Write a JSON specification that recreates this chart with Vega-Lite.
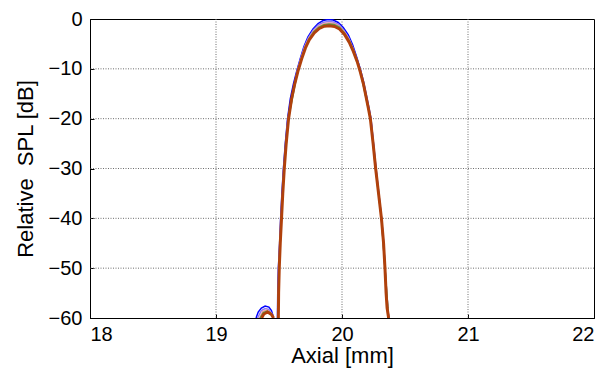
{
  "$schema": "https://vega.github.io/schema/vega-lite/v6.json",
  "width": 504,
  "height": 299,
  "autosize": {"type": "none"},
  "padding": {"left": 90, "top": 19, "right": 20, "bottom": 54},
  "background": "white",
  "config": {"view": {"stroke": "black", "strokeWidth": 1}, "font": "Liberation Sans"},
  "datasets": {
    "gx": [{"v": 19}, {"v": 20}, {"v": 21}],
    "gy": [{"v": -10}, {"v": -20}, {"v": -30}, {"v": -40}, {"v": -50}],
    "curves": [
      {"s": "a", "g": "s", "x": 19.318, "y": -60}, {"s": "a", "g": "s", "x": 19.335, "y": -58.8}, {"s": "a", "g": "s", "x": 19.36, "y": -58}, {"s": "a", "g": "s", "x": 19.39, "y": -57.6}, {"s": "a", "g": "s", "x": 19.42, "y": -57.8}, {"s": "a", "g": "s", "x": 19.44, "y": -58.5}, {"s": "a", "g": "s", "x": 19.452, "y": -59.5}, {"s": "a", "g": "s", "x": 19.456, "y": -60},
      {"s": "a", "g": "m", "x": 19.488, "y": -60}, {"s": "a", "g": "m", "x": 19.49, "y": -55}, {"s": "a", "g": "m", "x": 19.495, "y": -50}, {"s": "a", "g": "m", "x": 19.505, "y": -45}, {"s": "a", "g": "m", "x": 19.513, "y": -40}, {"s": "a", "g": "m", "x": 19.523, "y": -35}, {"s": "a", "g": "m", "x": 19.535, "y": -30}, {"s": "a", "g": "m", "x": 19.55, "y": -25}, {"s": "a", "g": "m", "x": 19.568, "y": -20}, {"s": "a", "g": "m", "x": 19.59, "y": -16}, {"s": "a", "g": "m", "x": 19.615, "y": -13}, {"s": "a", "g": "m", "x": 19.64, "y": -10.5}, {"s": "a", "g": "m", "x": 19.668, "y": -8}, {"s": "a", "g": "m", "x": 19.698, "y": -5.5}, {"s": "a", "g": "m", "x": 19.73, "y": -3.6}, {"s": "a", "g": "m", "x": 19.77, "y": -2}, {"s": "a", "g": "m", "x": 19.81, "y": -0.9}, {"s": "a", "g": "m", "x": 19.85, "y": -0.3}, {"s": "a", "g": "m", "x": 19.89, "y": -0.1}, {"s": "a", "g": "m", "x": 19.93, "y": -0.2}, {"s": "a", "g": "m", "x": 19.97, "y": -0.7}, {"s": "a", "g": "m", "x": 20.01, "y": -1.7}, {"s": "a", "g": "m", "x": 20.05, "y": -3.2}, {"s": "a", "g": "m", "x": 20.085, "y": -5.2}, {"s": "a", "g": "m", "x": 20.115, "y": -7.5}, {"s": "a", "g": "m", "x": 20.145, "y": -10}, {"s": "a", "g": "m", "x": 20.17, "y": -12.5}, {"s": "a", "g": "m", "x": 20.195, "y": -15.5}, {"s": "a", "g": "m", "x": 20.215, "y": -18}, {"s": "a", "g": "m", "x": 20.23, "y": -20}, {"s": "a", "g": "m", "x": 20.25, "y": -25}, {"s": "a", "g": "m", "x": 20.27, "y": -30}, {"s": "a", "g": "m", "x": 20.292, "y": -35}, {"s": "a", "g": "m", "x": 20.314, "y": -40}, {"s": "a", "g": "m", "x": 20.331, "y": -45}, {"s": "a", "g": "m", "x": 20.342, "y": -50}, {"s": "a", "g": "m", "x": 20.351, "y": -55}, {"s": "a", "g": "m", "x": 20.371, "y": -60},
      {"s": "b", "g": "s", "x": 19.33, "y": -60}, {"s": "b", "g": "s", "x": 19.36, "y": -58.5}, {"s": "b", "g": "s", "x": 19.39, "y": -58.1}, {"s": "b", "g": "s", "x": 19.42, "y": -58.3}, {"s": "b", "g": "s", "x": 19.445, "y": -59.2}, {"s": "b", "g": "s", "x": 19.456, "y": -60},
      {"s": "b", "g": "m", "x": 19.49, "y": -60}, {"s": "b", "g": "m", "x": 19.497, "y": -50}, {"s": "b", "g": "m", "x": 19.516, "y": -40}, {"s": "b", "g": "m", "x": 19.538, "y": -30}, {"s": "b", "g": "m", "x": 19.571, "y": -20}, {"s": "b", "g": "m", "x": 19.643, "y": -10.5}, {"s": "b", "g": "m", "x": 19.671, "y": -8}, {"s": "b", "g": "m", "x": 19.701, "y": -5.6}, {"s": "b", "g": "m", "x": 19.733, "y": -3.8}, {"s": "b", "g": "m", "x": 19.773, "y": -2.2}, {"s": "b", "g": "m", "x": 19.813, "y": -1.2}, {"s": "b", "g": "m", "x": 19.853, "y": -0.65}, {"s": "b", "g": "m", "x": 19.893, "y": -0.5}, {"s": "b", "g": "m", "x": 19.933, "y": -0.6}, {"s": "b", "g": "m", "x": 19.973, "y": -1.1}, {"s": "b", "g": "m", "x": 20.013, "y": -2.2}, {"s": "b", "g": "m", "x": 20.053, "y": -3.8}, {"s": "b", "g": "m", "x": 20.087, "y": -5.8}, {"s": "b", "g": "m", "x": 20.117, "y": -8}, {"s": "b", "g": "m", "x": 20.145, "y": -10.3}, {"s": "b", "g": "m", "x": 20.228, "y": -20}, {"s": "b", "g": "m", "x": 20.268, "y": -30}, {"s": "b", "g": "m", "x": 20.313, "y": -40}, {"s": "b", "g": "m", "x": 20.341, "y": -50}, {"s": "b", "g": "m", "x": 20.37, "y": -60},
      {"s": "c", "g": "s", "x": 19.345, "y": -60}, {"s": "c", "g": "s", "x": 19.37, "y": -58.7}, {"s": "c", "g": "s", "x": 19.4, "y": -58.4}, {"s": "c", "g": "s", "x": 19.43, "y": -58.8}, {"s": "c", "g": "s", "x": 19.452, "y": -59.6}, {"s": "c", "g": "s", "x": 19.457, "y": -60},
      {"s": "c", "g": "m", "x": 19.492, "y": -60}, {"s": "c", "g": "m", "x": 19.5, "y": -50}, {"s": "c", "g": "m", "x": 19.518, "y": -40}, {"s": "c", "g": "m", "x": 19.54, "y": -30}, {"s": "c", "g": "m", "x": 19.573, "y": -20}, {"s": "c", "g": "m", "x": 19.646, "y": -10.5}, {"s": "c", "g": "m", "x": 19.674, "y": -8}, {"s": "c", "g": "m", "x": 19.704, "y": -5.7}, {"s": "c", "g": "m", "x": 19.736, "y": -3.9}, {"s": "c", "g": "m", "x": 19.775, "y": -2.4}, {"s": "c", "g": "m", "x": 19.815, "y": -1.5}, {"s": "c", "g": "m", "x": 19.855, "y": -0.95}, {"s": "c", "g": "m", "x": 19.895, "y": -0.8}, {"s": "c", "g": "m", "x": 19.935, "y": -0.9}, {"s": "c", "g": "m", "x": 19.975, "y": -1.4}, {"s": "c", "g": "m", "x": 20.015, "y": -2.5}, {"s": "c", "g": "m", "x": 20.055, "y": -4.1}, {"s": "c", "g": "m", "x": 20.088, "y": -6}, {"s": "c", "g": "m", "x": 20.118, "y": -8.2}, {"s": "c", "g": "m", "x": 20.145, "y": -10.4}, {"s": "c", "g": "m", "x": 20.227, "y": -20}, {"s": "c", "g": "m", "x": 20.267, "y": -30}, {"s": "c", "g": "m", "x": 20.313, "y": -40}, {"s": "c", "g": "m", "x": 20.341, "y": -50}, {"s": "c", "g": "m", "x": 20.37, "y": -60},
      {"s": "d", "g": "s", "x": 19.35, "y": -60}, {"s": "d", "g": "s", "x": 19.375, "y": -58.9}, {"s": "d", "g": "s", "x": 19.405, "y": -58.6}, {"s": "d", "g": "s", "x": 19.435, "y": -59}, {"s": "d", "g": "s", "x": 19.455, "y": -60},
      {"s": "d", "g": "m", "x": 19.493, "y": -60}, {"s": "d", "g": "m", "x": 19.501, "y": -50}, {"s": "d", "g": "m", "x": 19.519, "y": -40}, {"s": "d", "g": "m", "x": 19.541, "y": -30}, {"s": "d", "g": "m", "x": 19.575, "y": -20}, {"s": "d", "g": "m", "x": 19.648, "y": -10.5}, {"s": "d", "g": "m", "x": 19.677, "y": -8}, {"s": "d", "g": "m", "x": 19.707, "y": -5.8}, {"s": "d", "g": "m", "x": 19.738, "y": -4}, {"s": "d", "g": "m", "x": 19.777, "y": -2.5}, {"s": "d", "g": "m", "x": 19.817, "y": -1.65}, {"s": "d", "g": "m", "x": 19.857, "y": -1.15}, {"s": "d", "g": "m", "x": 19.897, "y": -1}, {"s": "d", "g": "m", "x": 19.937, "y": -1.1}, {"s": "d", "g": "m", "x": 19.977, "y": -1.6}, {"s": "d", "g": "m", "x": 20.017, "y": -2.7}, {"s": "d", "g": "m", "x": 20.056, "y": -4.3}, {"s": "d", "g": "m", "x": 20.089, "y": -6.2}, {"s": "d", "g": "m", "x": 20.119, "y": -8.3}, {"s": "d", "g": "m", "x": 20.145, "y": -10.5}, {"s": "d", "g": "m", "x": 20.226, "y": -20}, {"s": "d", "g": "m", "x": 20.266, "y": -30}, {"s": "d", "g": "m", "x": 20.313, "y": -40}, {"s": "d", "g": "m", "x": 20.341, "y": -50}, {"s": "d", "g": "m", "x": 20.37, "y": -60},
      {"s": "e", "g": "s", "x": 19.362, "y": -60}, {"s": "e", "g": "s", "x": 19.38, "y": -59.2}, {"s": "e", "g": "s", "x": 19.41, "y": -58.8}, {"s": "e", "g": "s", "x": 19.44, "y": -59.3}, {"s": "e", "g": "s", "x": 19.457, "y": -60},
      {"s": "e", "g": "m", "x": 19.495, "y": -60}, {"s": "e", "g": "m", "x": 19.497, "y": -55}, {"s": "e", "g": "m", "x": 19.502, "y": -50}, {"s": "e", "g": "m", "x": 19.51, "y": -45}, {"s": "e", "g": "m", "x": 19.52, "y": -40}, {"s": "e", "g": "m", "x": 19.53, "y": -35}, {"s": "e", "g": "m", "x": 19.542, "y": -30}, {"s": "e", "g": "m", "x": 19.557, "y": -25}, {"s": "e", "g": "m", "x": 19.576, "y": -20}, {"s": "e", "g": "m", "x": 19.6, "y": -16}, {"s": "e", "g": "m", "x": 19.625, "y": -13}, {"s": "e", "g": "m", "x": 19.65, "y": -10.5}, {"s": "e", "g": "m", "x": 19.68, "y": -8}, {"s": "e", "g": "m", "x": 19.71, "y": -5.8}, {"s": "e", "g": "m", "x": 19.74, "y": -4.2}, {"s": "e", "g": "m", "x": 19.78, "y": -2.8}, {"s": "e", "g": "m", "x": 19.82, "y": -1.9}, {"s": "e", "g": "m", "x": 19.86, "y": -1.45}, {"s": "e", "g": "m", "x": 19.9, "y": -1.35}, {"s": "e", "g": "m", "x": 19.94, "y": -1.5}, {"s": "e", "g": "m", "x": 19.98, "y": -2}, {"s": "e", "g": "m", "x": 20.02, "y": -3.1}, {"s": "e", "g": "m", "x": 20.058, "y": -4.7}, {"s": "e", "g": "m", "x": 20.09, "y": -6.5}, {"s": "e", "g": "m", "x": 20.12, "y": -8.5}, {"s": "e", "g": "m", "x": 20.145, "y": -10.6}, {"s": "e", "g": "m", "x": 20.17, "y": -13}, {"s": "e", "g": "m", "x": 20.19, "y": -15.5}, {"s": "e", "g": "m", "x": 20.21, "y": -18}, {"s": "e", "g": "m", "x": 20.225, "y": -20}, {"s": "e", "g": "m", "x": 20.247, "y": -25}, {"s": "e", "g": "m", "x": 20.267, "y": -30}, {"s": "e", "g": "m", "x": 20.29, "y": -35}, {"s": "e", "g": "m", "x": 20.313, "y": -40}, {"s": "e", "g": "m", "x": 20.33, "y": -45}, {"s": "e", "g": "m", "x": 20.341, "y": -50}, {"s": "e", "g": "m", "x": 20.35, "y": -55}, {"s": "e", "g": "m", "x": 20.358, "y": -58}, {"s": "e", "g": "m", "x": 20.37, "y": -60}
    ]
  },
  "layer": [
    {
      "data": {"name": "gx"},
      "mark": {"type": "rule", "color": "#6e6e6e", "strokeDash": [1, 1.5], "strokeWidth": 1},
      "encoding": {
        "x": {"field": "v", "type": "quantitative", "scale": {"domain": [18, 22], "nice": false, "zero": false},
          "axis": {"title": "Axial [mm]", "values": [18, 19, 20, 21, 22], "format": "d", "grid": false, "domainColor": "black", "tickColor": "black", "tickSize": -4, "labelFont": "Liberation Sans", "labelFontSize": 20, "labelColor": "black", "labelPadding": 10, "titleFont": "Liberation Sans", "titleFontSize": 22, "titleFontWeight": "normal", "titleColor": "black", "titleY": 44, "titleBaseline": "alphabetic"}}
      }
    },
    {
      "data": {"name": "gy"},
      "mark": {"type": "rule", "color": "#6e6e6e", "strokeDash": [1, 1.5], "strokeWidth": 1},
      "encoding": {
        "y": {"field": "v", "type": "quantitative", "scale": {"domain": [-60, 0], "nice": false, "zero": false},
          "axis": {"title": "Relative\u00a0 SPL [dB]", "values": [-60, -50, -40, -30, -20, -10, 0], "format": "d", "grid": false, "domainColor": "black", "tickColor": "black", "tickSize": -4, "labelFont": "Liberation Sans", "labelFontSize": 20, "labelColor": "black", "labelPadding": 12, "titleFont": "Liberation Sans", "titleFontSize": 22, "titleFontWeight": "normal", "titleColor": "black", "titleX": -65, "titleY": 149.5, "titleBaseline": "middle", "titleAngle": -90}}
      }
    },
    {
      "data": {"name": "curves"},
      "transform": [{"filter": "datum.s != 'e'"}],
      "mark": {"type": "line", "clip": true, "strokeWidth": 1.5},
      "encoding": {
        "x": {"field": "x", "type": "quantitative"},
        "y": {"field": "y", "type": "quantitative"},
        "order": {"field": "x", "type": "quantitative"},
        "detail": {"field": "g"},
        "color": {"field": "s", "type": "nominal", "scale": {"domain": ["a", "b", "c", "d", "e"], "range": ["#0000ff", "#8c7cf2", "#ff9a9a", "#4f9f4f", "#b0410c"]}, "legend": null}
      }
    },
    {
      "data": {"name": "curves"},
      "transform": [{"filter": "datum.s == 'e'"}],
      "mark": {"type": "line", "clip": true, "strokeWidth": 3},
      "encoding": {
        "x": {"field": "x", "type": "quantitative"},
        "y": {"field": "y", "type": "quantitative"},
        "order": {"field": "x", "type": "quantitative"},
        "detail": {"field": "g"},
        "color": {"field": "s", "type": "nominal", "legend": null}
      }
    }
  ]
}
